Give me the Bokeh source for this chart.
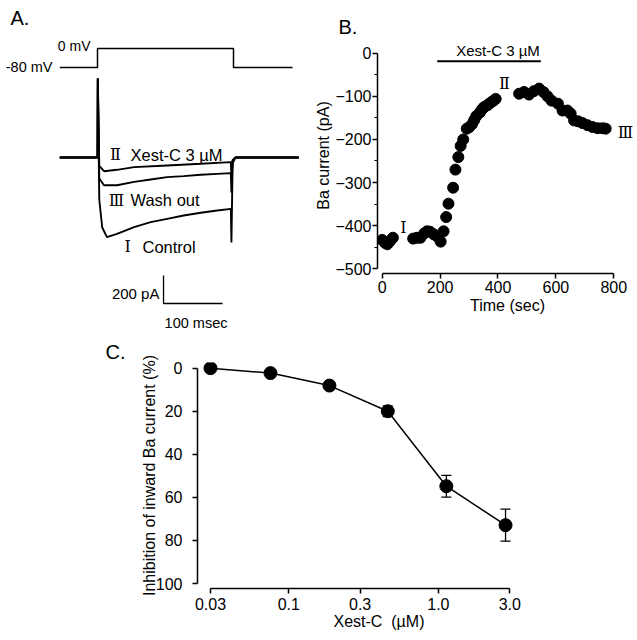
from bokeh.plotting import figure
from bokeh.layouts import column, row
from bokeh.models import Range1d, FixedTicker, Whisker, TeeHead, ColumnDataSource
from bokeh.core.properties import value
from bokeh.embed import file_html
from bokeh.resources import INLINE

SANS = "Liberation Sans"
SERIF = "DejaVu Serif"

# ---------------- Panel A data (ms, pA / mV) ----------------
volt_t = [-64, 0, 0, 230.5, 230.5, 330.5]
volt_mv = [-80, -80, 0, 0, -80, -80]

ctrl_t = [-64, 0, 0.5, 3, 8, 16, 33, 62, 90, 118, 146, 175, 203, 226, 227, 229, 234, 341]
ctrl_i = [0, 0, 564, -300, -500, -569, -545, -498, -462, -438, -414, -395, -379, -367, -607, -40, 0, 0]
xest_t = [-64, 0, 0.5, 3, 11, 33, 62, 118, 175, 226, 227, 229, 234, 341]
xest_i = [0, 0, 564, -60, -98, -88, -69, -57, -45, -33, -150, -20, 0, 0]
wash_t = [-64, 0, 0.5, 3, 11, 33, 62, 90, 118, 146, 175, 203, 226, 227, 229, 234, 341]
wash_i = [0, 0, 564, -150, -198, -198, -174, -157, -140, -133, -123, -117, -112, -250, -20, 0, 0]

scale_pa = 200
scale_ms = 100

# ---------------- Panel B data ----------------
time_s = [0, 10, 18, 27, 37,
          107, 120, 132, 145, 155, 165, 178, 190, 202, 212, 221, 229, 245, 253, 263, 271, 280,
          292, 300, 310, 318, 325, 338, 345, 352, 363, 370, 378, 385, 392,
          473, 490, 507, 524, 542, 557, 571, 585, 607, 623, 640, 651, 663, 677, 692, 709, 726,
          744, 761, 772]
ba_pa = [-433, -440, -443, -436, -428,
         -430, -428, -428, -418, -413, -414, -420, -425, -437, -413, -380, -349, -312, -270, -241, -215, -200,
         -175, -172, -165, -155, -146, -137, -130, -125, -121, -117, -113, -110, -106,
         -94, -90, -96, -88, -82, -90, -100, -110, -117, -133, -133, -140, -156, -158, -162, -167, -171,
         -174, -174, -175]
treat_start, treat_end = 190, 548

# ---------------- Panel C data ----------------
conc_um = [0.030, 0.0755, 0.187, 0.459, 1.13, 2.81]
inhib_pct = [0.0, 2.3, 8.1, 20.0, 54.8, 72.9]
inhib_err = [0.5, 1.0, 1.5, 2.5, 5.05, 7.45]
c_ticks = [0.03, 0.1, 0.3, 1.0, 3.0]
c_tick_labels = ["0.03", "0.1", "0.3", "1.0", "3.0"]


def txt(p, x, y, s, font, size, align="left", baseline="middle", **kw):
    p.text(x=[x], y=[y], text=[s], text_font=value(font), text_font_size=size,
           text_align=align, text_baseline=baseline, text_color="black", **kw)


def style_title(p, text, offset):
    p.title.text = text
    p.title.align = "left"
    p.title.offset = offset
    p.title.standoff = 0
    p.title.text_font = SANS
    p.title.text_font_size = "20px"
    p.title.text_font_style = "normal"
    p.title.text_color = "black"


def style_axes(p):
    for ax in p.axis:
        ax.axis_line_width = 1.5
        ax.axis_line_color = "black"
        ax.major_tick_line_width = 1.5
        ax.major_tick_line_color = "black"
        ax.minor_tick_line_width = 1.2
        ax.minor_tick_line_color = "black"
        ax.major_tick_out = 5
        ax.major_tick_in = 0
        ax.minor_tick_out = 3
        ax.minor_tick_in = 0
        ax.major_label_text_font = SANS
        ax.major_label_text_font_size = "16px"
        ax.major_label_text_color = "black"
        ax.axis_label_text_font = SANS
        ax.axis_label_text_font_size = "16px"
        ax.axis_label_text_font_style = "normal"
        ax.axis_label_text_color = "black"


# ================= Panel A =================
pA = figure(width=309, height=338, output_backend="svg", toolbar_location=None,
            x_axis_location=None, y_axis_location=None,
            x_range=Range1d(-164.4, 359.3), y_range=Range1d(-1292.9, 1121.4),
            min_border=0, min_border_left=0, min_border_right=0, min_border_top=0, min_border_bottom=0)
pA.extra_y_ranges = {"mv": Range1d(-1221.1, 202.1)}
pA.outline_line_color = None
pA.grid.visible = False

pA.line(volt_t, volt_mv, y_range_name="mv", line_color="black", line_width=1.5)
for tt, ii in [(ctrl_t, ctrl_i), (wash_t, wash_i), (xest_t, xest_i)]:
    pA.line(tt, ii, line_color="black", line_width=1.9)

sx0, sy0 = 111.9, -1043
pA.line([sx0, sx0, sx0 + scale_ms], [sy0 + scale_pa, sy0, sy0], line_color="black", line_width=1.3)

txt(pA, -147.5, 996, "A.", SANS, "20px")
txt(pA, -11.9, 12.6, "0 mV", SANS, "14px", align="right", y_range_name="mv")
txt(pA, -76.3, -80, "-80 mV", SANS, "14.5px", align="right", y_range_name="mv")
txt(pA, 30.5, 21, "Ⅱ", SERIF, "16px", align="center")
txt(pA, 55.9, 21, "Xest-C 3 µM", SANS, "16.5px")
txt(pA, 32, -307, "Ⅲ", SERIF, "16px", align="center")
txt(pA, 55.9, -307, "Wash out", SANS, "16.5px")
txt(pA, 51, -636, "Ⅰ", SERIF, "16px", align="center")
txt(pA, 76.3, -636, "Control", SANS, "16.5px")
txt(pA, 105, -971, "200 pA", SANS, "15px", align="right")
txt(pA, 167, -1183.6, "100 msec", SANS, "14.5px", align="center")

# ================= Panel B =================
pB = figure(width=328, height=338, output_backend="svg", toolbar_location=None,
            x_range=Range1d(-16.2, 881.9), y_range=Range1d(-510.9, 36.4),
            min_border_left=68, min_border_right=0, min_border_top=37, min_border_bottom=65)
pB.outline_line_color = None
pB.grid.visible = False
style_title(pB, "B.", -39)
pB.scatter(time_s, ba_pa, size=11, color="black")
pB.segment(x0=[treat_start], y0=[-18.5], x1=[treat_end], y1=[-18.5], line_color="black", line_width=2)
txt(pB, 400, 6.3, "Xest-C 3 µM", SANS, "15px", align="center")
txt(pB, 73.6, -403.5, "Ⅰ", SERIF, "16px", align="center")
txt(pB, 422.5, -69.6, "Ⅱ", SERIF, "16px", align="center")
txt(pB, 840, -183.2, "Ⅲ", SERIF, "16px", align="center")

pB.xaxis.bounds = (0, 800)
pB.yaxis.bounds = (-500, 0)
pB.xaxis.ticker = FixedTicker(ticks=[0, 200, 400, 600, 800], minor_ticks=[])
pB.yaxis.ticker = FixedTicker(ticks=[-500, -400, -300, -200, -100, 0],
                              minor_ticks=[-450, -350, -250, -150, -50])
pB.xaxis.axis_label = "Time (sec)"
pB.yaxis.axis_label = "Ba current (pA)"
style_axes(pB)
pB.xaxis.major_label_standoff = 2
pB.xaxis.axis_label_standoff = 1
pB.yaxis.major_label_standoff = 1
pB.yaxis.axis_label_standoff = 0

# ================= Panel C =================
pC = figure(width=637, height=302, output_backend="svg", toolbar_location=None,
            x_axis_type="log",
            x_range=Range1d(0.02456, 6.545), y_range=Range1d(102.3, -2.62),
            min_border_left=197, min_border_right=77, min_border_top=22, min_border_bottom=52)
pC.outline_line_color = None
pC.grid.visible = False
style_title(pC, "C.", -92)
src = ColumnDataSource(dict(x=conc_um, y=inhib_pct,
                            lo=[v - e for v, e in zip(inhib_pct, inhib_err)],
                            hi=[v + e for v, e in zip(inhib_pct, inhib_err)]))
pC.line("x", "y", source=src, line_color="black", line_width=1.5)
pC.add_layout(Whisker(source=src, base="x", lower="lo", upper="hi", line_color="black", line_width=1.3,
                      lower_head=TeeHead(size=10, line_width=1.3, line_color="black"),
                      upper_head=TeeHead(size=10, line_width=1.3, line_color="black")))
pC.scatter("x", "y", source=src, size=13, color="black")

pC.xaxis.bounds = (0.03, 3.0)
pC.yaxis.bounds = (0, 100)
pC.xaxis.ticker = FixedTicker(ticks=c_ticks, minor_ticks=[])
pC.xaxis.major_label_overrides = {t: l for t, l in zip(c_ticks, c_tick_labels)}
pC.yaxis.ticker = FixedTicker(ticks=[0, 20, 40, 60, 80, 100], minor_ticks=[])
pC.xaxis.axis_label = "Xest-C\u00a0 (µM)"
pC.yaxis.axis_label = "Inhibition of inward Ba current (%)"
style_axes(pC)
pC.xaxis.major_label_standoff = 4
pC.xaxis.axis_label_standoff = 0
pC.yaxis.major_label_standoff = 10
pC.yaxis.axis_label_standoff = -5

layout = column(row(column(pA), pB), pC)
open("out.html", "w").write(file_html(layout, INLINE))
